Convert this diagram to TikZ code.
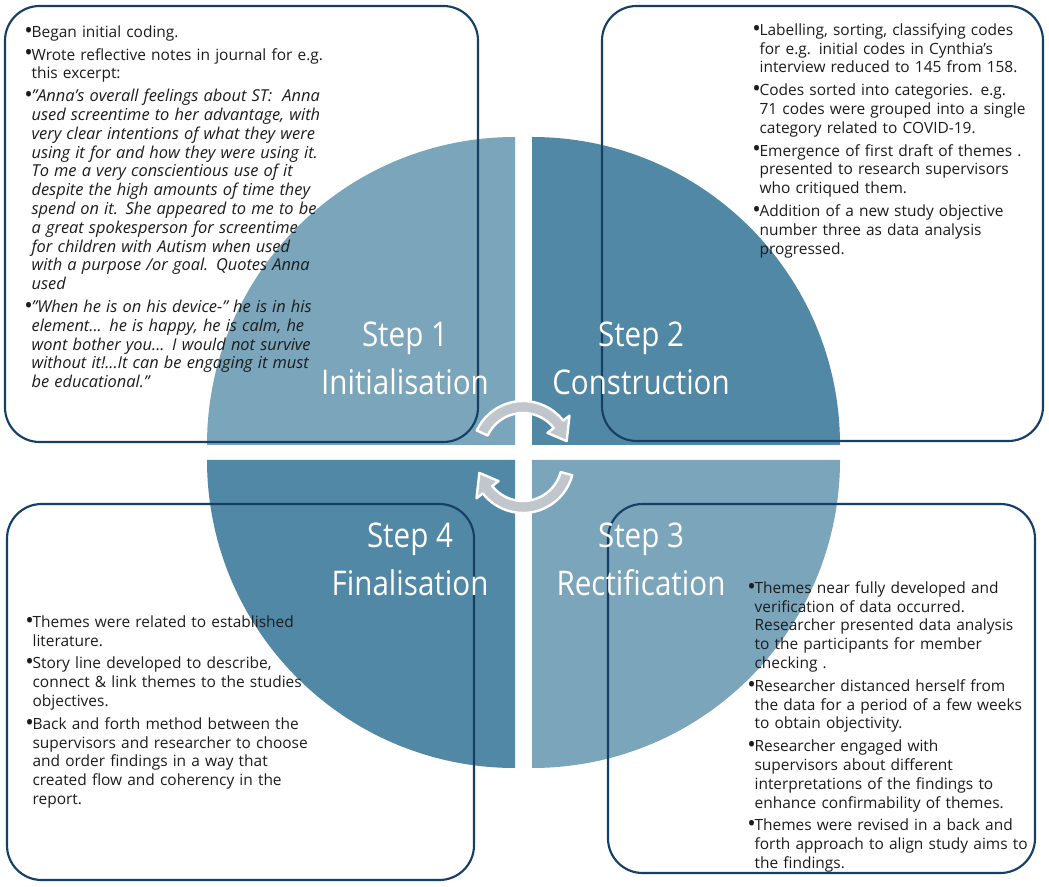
\documentclass[tikz,border=0pt]{standalone}
\usepackage{fontspec}
\setmainfont{Open Sans}
\newfontfamily\stepfont[FakeStretch=0.87]{Open Sans}
\usetikzlibrary{calc}
\definecolor{qlight}{RGB}{122,165,187}
\definecolor{qdark}{RGB}{81,136,165}
\definecolor{boxline}{RGB}{22,63,102}
\definecolor{txt}{RGB}{28,28,28}
\definecolor{arrowgrey}{RGB}{192,198,204}
\newlength\bind
\setlength\bind{5.5pt}
\newcommand\nl{\newline}
\newcommand\itq{\fontsize{12.3}{14.1}\selectfont\itshape}
\newcommand\bitem[1]{\hangindent=\bind\hangafter=1\noindent\makebox[\bind][l]{\raisebox{-0.6pt}{\fontsize{17}{14}\selectfont\textbullet}}\strut#1\par\vspace{3pt}}
\begin{document}
\begin{tikzpicture}[x=0.75pt,y=-0.75pt,
  panel/.style={draw=boxline, line width=1.6pt, rounded corners=26pt},
  bulletbox/.style={anchor=north west, inner sep=0pt, text width=285pt, font=\fontsize{11.6}{14.1}\selectfont, text=txt},
  steplabel/.style={anchor=base, inner sep=0pt, text=white, font=\stepfont\fontsize{25.5}{30}\selectfont},
  cycarrow/.style={fill=arrowgrey, draw=white, line width=1.8pt, line join=round}]
\fill[white] (0,0) rectangle (1049,887);
\useasboundingbox (0,0) rectangle (1049,887);
% circle quadrants
\fill[qlight] (515,445) -- ++(-308,0) arc[start angle=180, end angle=270, radius=308] -- cycle;
\fill[qdark] (532,445) -- ++(308,0) arc[start angle=0, end angle=-90, radius=308] -- cycle;
\fill[qdark] (515,460) -- ++(-308,0) arc[start angle=180, end angle=90, radius=308] -- cycle;
\fill[qlight] (532,460) -- ++(308,0) arc[start angle=0, end angle=90, radius=308] -- cycle;
% panels
\draw[panel] (5,6) rectangle (478,442);
\draw[panel] (602,6) rectangle (1043,441);
\draw[panel] (7,504) rectangle (474,880);
\draw[panel] (608,504) rectangle (1035,873);
% texts
\node[bulletbox] (t1) at (24,23.8) {\raggedright
\bitem{Began initial coding.}
\bitem{Wrote reflective notes in journal for e.g.\nl this excerpt:}
\bitem{{\itq "Anna's overall feelings about ST:\ \ Anna\nl used screentime to her advantage, with\nl very clear intentions of what they were\nl using it for and how they were using it.\nl To me a very conscientious use of it\nl despite the high amounts of time they\nl spend on it. She appeared to me to be\nl a great spokesperson for screentime\nl for children with Autism when used\nl with a purpose /or goal. Quotes Anna\nl used}}
\bitem{{\itq "When he is on his device-" he is in his\nl element... he is happy, he is calm, he\nl wont bother you... I would not survive\nl without it!...It can be engaging it must\nl be educational."}}};
\node[bulletbox] (t2) at (752,21.8) {\raggedright
\bitem{Labelling, sorting, classifying codes\nl for e.g. initial codes in Cynthia's\nl interview reduced to 145 from 158.}
\bitem{Codes sorted into categories. e.g.\nl 71 codes were grouped into a single\nl category related to COVID-19.}
\bitem{Emergence of first draft of themes .\nl presented to research supervisors\nl who critiqued them.}
\bitem{Addition of a new study objective\nl number three as data analysis\nl progressed.}};
\node[bulletbox] (t4) at (25,613.8) {\raggedright
\bitem{Themes were related to established\nl literature.}
\bitem{Story line developed to describe,\nl connect \& link themes to the studies\nl objectives.}
\bitem{Back and forth method between the\nl supervisors and researcher to choose\nl and order findings in a way that\nl created flow and coherency in the\nl report.}};
\node[bulletbox] (t3) at (747,579.8) {\raggedright
\bitem{Themes near fully developed and\nl verification of data occurred.\nl Researcher presented data analysis\nl to the participants for member\nl checking .}
\bitem{Researcher distanced herself from\nl the data for a period of a few weeks\nl to obtain objectivity.}
\bitem{Researcher engaged with\nl supervisors about different\nl interpretations of the findings to\nl enhance confirmability of themes.}
\bitem{Themes were revised in a back and\nl forth approach to align study aims to\nl the findings.}};
% cycle arrows
\coordinate (ca) at (523,452);
\coordinate (cb) at (523,462);
\draw[cycarrow] ($(ca)+(-155:51)$) arc[start angle=-155, end angle=-38, radius=51]
  -- ($(ca)+(-38:59)$) -- ($(ca)+(-14:45)$) -- ($(ca)+(-38:31)$) -- ($(ca)+(-38:39)$)
  arc[start angle=-38, end angle=-155, radius=39] -- cycle;
\draw[cycarrow] ($(cb)+(15:51)$) arc[start angle=15, end angle=142, radius=51]
  -- ($(cb)+(142:59)$) -- ($(cb)+(166:45)$) -- ($(cb)+(142:31)$) -- ($(cb)+(142:39)$)
  arc[start angle=142, end angle=15, radius=39] -- cycle;
% step labels
\node[steplabel] (s1a) at (405,347) {Step 1};
\node[steplabel] (s1b) at (405,395) {Initialisation};
\node[steplabel] (s2a) at (641,347) {Step 2};
\node[steplabel] (s2b) at (641,395) {Construction};
\node[steplabel] (s4a) at (410,547) {Step 4};
\node[steplabel] (s4b) at (410,595) {Finalisation};
\node[steplabel] (s3a) at (641,547) {Step 3};
\node[steplabel] (s3b) at (641,595) {Rectification};
\end{tikzpicture}
\end{document}
